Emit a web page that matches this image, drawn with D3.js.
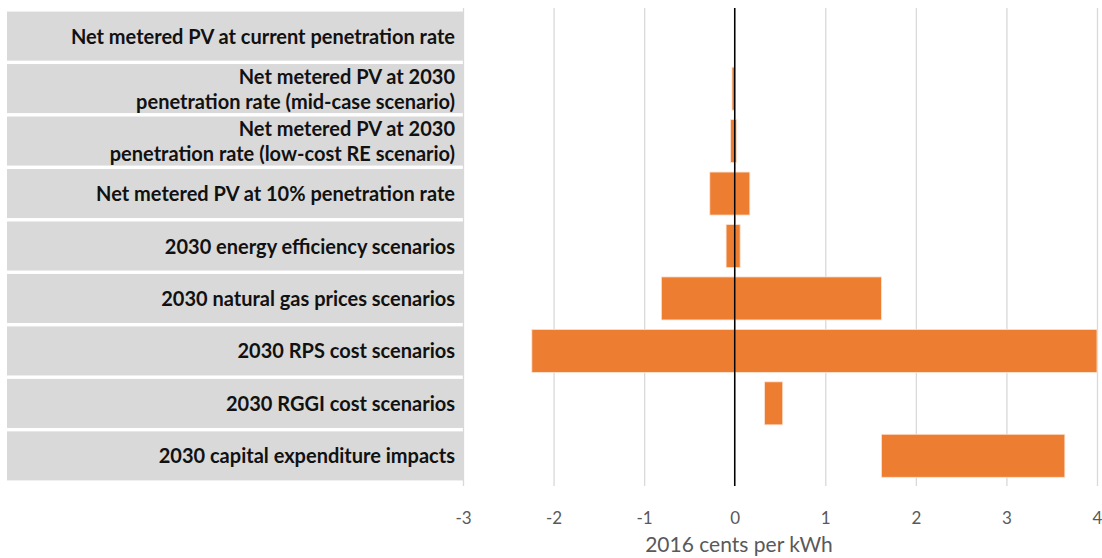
<!DOCTYPE html>
<html>
<head>
<meta charset="utf-8">
<script src="https://cdn.jsdelivr.net/npm/d3@7"></script>
<style>
  body { margin: 0; background: #fff; }
  svg { display: block; }
  .tick text { font-family: Lato, "Open Sans", sans-serif; }
</style>
</head>
<body>
<svg id="chart" width="1102" height="558"></svg>
<script>
// category labels (lines), top to bottom
var categories = [
    ["Net metered PV at current penetration rate"],
    ["Net metered PV at 2030", "penetration rate (mid-case scenario)"],
    ["Net metered PV at 2030", "penetration rate (low-cost RE scenario)"],
    ["Net metered PV at 10% penetration rate"],
    ["2030 energy efficiency scenarios"],
    ["2030 natural gas prices scenarios"],
    ["2030 RPS cost scenarios"],
    ["2030 RGGI cost scenarios"],
    ["2030 capital expenditure impacts"]
];
var lowValues  = [0, -0.03, -0.045, -0.275, -0.095, -0.81, -2.24, 0.33, 1.62];
var highValues = [0, 0, 0.02, 0.167, 0.06, 1.62, 4.0, 0.53, 3.645];
var xTicks = [-3, -2, -1, 0, 1, 2, 3, 4];
var xTitle = "2016 cents per kWh";

var svg = d3.select("#chart");
var idx = d3.range(categories.length);

var x = d3.scaleLinear().domain([-3, 4]).range([463, 1097]);
var yBox = d3.scaleBand().domain(idx).range([10, 482]).paddingInner(0.065).paddingOuter(0.03);
var yBar = d3.scaleBand().domain(idx).range([10, 482]).paddingInner(0.18).paddingOuter(0.09);

// gridlines + tick labels
var axis = svg.append("g")
    .attr("transform", "translate(0,486)")
    .call(d3.axisBottom(x).tickValues(xTicks).tickSize(-478).tickFormat(d3.format("d")));
axis.select(".domain").remove();
axis.selectAll(".tick line").attr("stroke", "#d9d9d9").attr("stroke-width", 1.3);
axis.selectAll(".tick text")
    .attr("y", 26)
    .attr("fill", "#595959")
    .style("font-size", "17px")
    .text(function (d) { return d; });

// label boxes
var rows = svg.append("g").selectAll("g")
    .data(idx)
    .enter()
    .append("g");

rows.append("rect")
    .attr("x", 7)
    .attr("width", 456)
    .attr("y", function (i) { return yBox(i); })
    .attr("height", yBox.bandwidth())
    .attr("fill", "#d9d9d9");

rows.append("text")
    .attr("text-anchor", "end")
    .attr("font-family", "Lato, 'Open Sans', sans-serif")
    .attr("font-weight", "bold")
    .attr("font-size", 20)
    .attr("fill", "#111")
    .each(function (i) {
        var lines = categories[i];
        var cy = yBox(i) + yBox.bandwidth() / 2;
        var lh = 25;
        var t = d3.select(this);
        lines.forEach(function (l, k) {
            t.append("tspan")
                .attr("x", 455)
                .attr("y", cy + (k - (lines.length - 1) / 2) * lh + 7.5)
                .text(l);
        });
    });

// bars
svg.append("g").selectAll("rect")
    .data(idx)
    .enter()
    .append("rect")
    .attr("x", function (i) { return x(lowValues[i]); })
    .attr("width", function (i) { return x(highValues[i]) - x(lowValues[i]); })
    .attr("y", function (i) { return yBar(i); })
    .attr("height", yBar.bandwidth())
    .attr("fill", "#ed7d31")
    .attr("stroke", "#fbe3d3")
    .attr("stroke-width", 0.8);

// zero line
svg.append("line")
    .attr("x1", x(0)).attr("x2", x(0))
    .attr("y1", 8).attr("y2", 486)
    .attr("stroke", "#000")
    .attr("stroke-width", 1.5);

// axis title
svg.append("text")
    .attr("x", 739)
    .attr("y", 552)
    .attr("text-anchor", "middle")
    .attr("font-family", "Lato, 'Open Sans', sans-serif")
    .attr("font-size", 21)
    .attr("fill", "#595959")
    .text(xTitle);
</script>
</body>
</html>
